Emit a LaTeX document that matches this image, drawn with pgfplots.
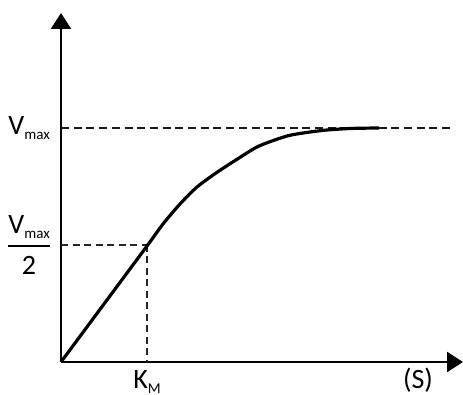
\documentclass[border=0pt]{standalone}
\usepackage{fontspec}
\setmainfont{Carlito}
\usepackage{pgfplots}
\pgfplotsset{compat=1.18}
\usetikzlibrary{arrows.meta}
\newcommand\sub[1]{\raisebox{-5pt}{\fontsize{15}{15}\selectfont #1}}
\newcommand\halfvmax{\setbox0=\hbox{V\sub{max}}\dimen0=\wd0 \vbox{\copy0\kern6pt\hrule width\dimen0 height 2pt\kern9pt\hbox to\dimen0{\hfil 2\hfil}}}
\begin{document}
\begin{tikzpicture}
\path[use as bounding box] (0,0) rectangle (463pt,395pt);
\begin{axis}[
  at={(61pt,33pt)}, anchor=south west,
  x=1pt, y=1pt,
  xmin=0, xmax=402, ymin=0, ymax=349,
  axis lines=left,
  axis line style={line width=2.4pt, -{Triangle[width=20pt,length=16pt]}},
  xtick={86,357}, xticklabels={K\sub{M},(S)},
  ytick={117,234}, yticklabels={{\halfvmax},{V\sub{max}}},
  major tick length=0pt,
  tick label style={font=\fontsize{28}{30}\selectfont, inner sep=0pt},
  xticklabel style={anchor=base, yshift=-27pt},
  yticklabel style={anchor=east, xshift=-11pt},
  clip=false,
]
\addplot[black!90, line width=2.3pt, dash pattern=on 8pt off 4.7pt] coordinates {(0,234) (389,234)};
\addplot[black!85, line width=2pt, dash pattern=on 7pt off 4.5pt] coordinates {(0,117) (86,117)};
\addplot[black!85, line width=2pt, dash pattern=on 7pt off 4.5pt] coordinates {(86,117) (86,0)};
\addplot[black, line width=3.2pt, smooth, tension=0.4] coordinates {
 (0,0) (43,58) (86,116) (102,138) (119,158) (136,175) (155,189) (178,204)
 (198,216) (228,226.5) (261,231.5) (289,233.5) (318,234)
};
\end{axis}
\end{tikzpicture}
\end{document}
